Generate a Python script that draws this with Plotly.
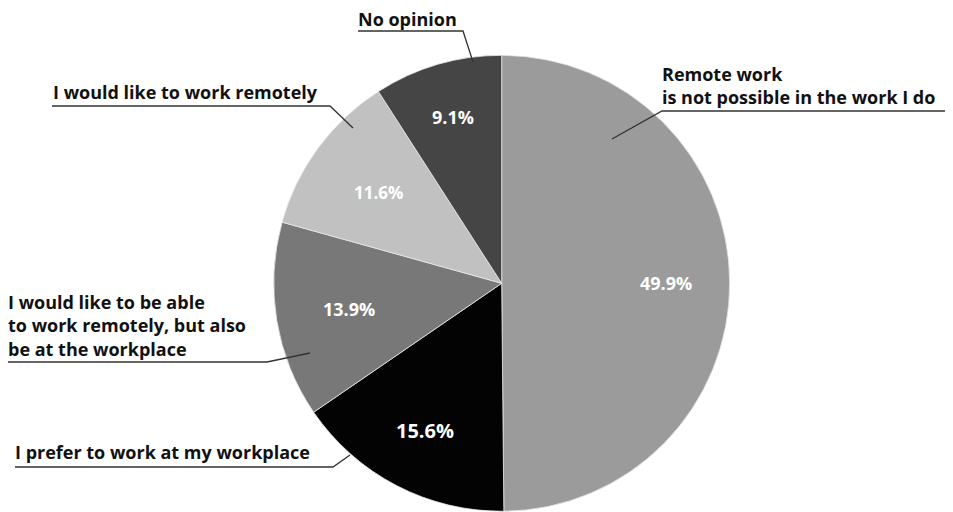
import math
import plotly.graph_objects as go

categories = [
    "Remote work is not possible in the work I do",
    "I prefer to work at my workplace",
    "I would like to be able to work remotely, but also be at the workplace",
    "I would like to work remotely",
    "No opinion",
]
values = [49.9, 15.6, 13.9, 11.6, 9.1]
colors = ["#9b9b9b", "#030303", "#787878", "#c1c1c1", "#454545"]
label_texts = [
    "Remote work<br>is not possible in the work I do",
    "I prefer to work at my workplace",
    "I would like to be able<br>to work remotely, but also<br>be at the workplace",
    "I would like to work remotely",
    "No opinion",
]
pct_sizes = [18, 20, 18, 17, 18]
pct_radius = [0.72, 0.73, 0.68, 0.67, 0.76]

# page offset: the browser body has an 8px margin
OFF = 8
W, H = 953 - OFF, 512 - OFF


def px(x, y):
    return (x - OFF) / W, 1 - (y - OFF) / H


# pie geometry (page pixels)
cx, cy, r = 501.7, 283.3, 228

fig = go.Figure(
    go.Pie(
        labels=categories,
        values=values,
        sort=False,
        direction="clockwise",
        rotation=0,
        marker=dict(colors=colors, line=dict(color="#e8e8e8", width=0.8)),
        textinfo="none",
        hoverinfo="label+value",
        showlegend=False,
        domain=dict(x=[(cx - r - OFF) / W, (cx + r - OFF) / W],
                    y=[1 - (cy + r - OFF) / H, 1 - (cy - r - OFF) / H]),
    )
)

# percentage labels placed at slice mid-angles
total = sum(values)
cum = 0.0
for v, fs, rf in zip(values, pct_sizes, pct_radius):
    mid = (cum + v / 2) / total * 2 * math.pi
    cum += v
    tx = cx + rf * r * math.sin(mid)
    ty = cy - rf * r * math.cos(mid)
    ax, ay = px(tx, ty)
    fig.add_annotation(
        x=ax, y=ay, xref="paper", yref="paper", text=f"{v:.1f}%", showarrow=False,
        xanchor="center", yanchor="middle",
        font=dict(family="Open Sans", size=fs, color="white", weight="bold"),
    )

# label positions (left x, center y) and leader lines (page-pixel polylines)
label_pos = [(660, 85), (13, 452), (6, 325), (51, 92), (356, 19)]
leaders = [
    [(948, 111), (662, 111), (612, 139)],
    [(15, 467), (333, 467), (350, 455)],
    [(8, 362), (267, 362), (310, 353)],
    [(52, 106), (330, 106), (353, 128)],
    [(358, 31), (463, 31), (473, 62)],
]

for txt, (lx, ly) in zip(label_texts, label_pos):
    ax, ay = px(lx, ly)
    fig.add_annotation(
        x=ax, y=ay, xref="paper", yref="paper", text=txt, showarrow=False,
        xanchor="left", yanchor="middle", align="left",
        font=dict(family="Open Sans", size=18, color="#111111", weight="bold"),
    )

for pts in leaders:
    path = ""
    for i, (x, y) in enumerate(pts):
        X, Y = px(x, y)
        path += ("M" if i == 0 else "L") + f"{X},{Y} "
    fig.add_shape(type="path", path=path.strip(), xref="paper", yref="paper",
                  line=dict(color="#333333", width=1.3))

fig.update_layout(
    width=W, height=H,
    margin=dict(l=0, r=0, t=0, b=0),
    paper_bgcolor="white", plot_bgcolor="white",
)

fig.write_html("out.html")
